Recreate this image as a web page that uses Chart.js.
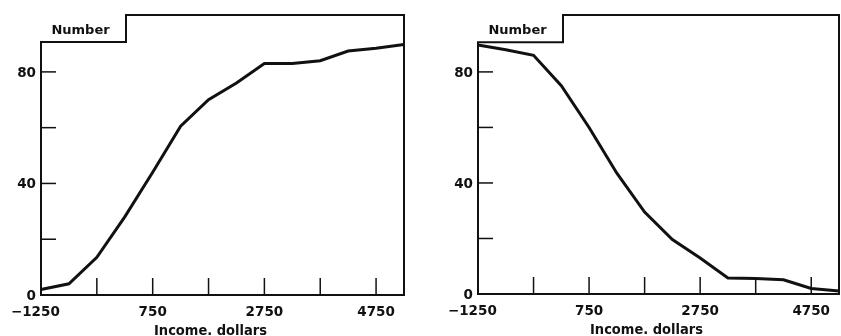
<!DOCTYPE html>
<html>
<head>
<meta charset="utf-8">
<script src="https://cdn.jsdelivr.net/npm/chart.js@4/dist/chart.umd.min.js"></script>
<style>
html, body { margin: 0; padding: 0; background: #fff; }
#wrap { position: relative; width: 841px; height: 336px; }
.panel { position: absolute; top: 0; height: 336px; }
#left { left: 0; width: 420px; }
#right { left: 420px; width: 421px; }
</style>
</head>
<body>
<div id="wrap">
  <div class="panel" id="left"><canvas id="below" width="420" height="336"></canvas></div>
  <div class="panel" id="right"><canvas id="above" width="421" height="336"></canvas></div>
</div>
<script>
// income levels (dollars) where the curves are read
const income = [-1250, -750, -250, 250, 750, 1250, 1750, 2250, 2750, 3250, 3750, 4250, 4750, 5250];
// left panel: number with income below the level
const numberBelow = [2, 4, 13.5, 28, 44, 60.5, 70, 76, 83, 83, 84, 87.5, 88.5, 89.8];
// right panel: number with income above the level
const numberAbove = [89.7, 88, 86, 75, 60, 43.5, 29.5, 19.6, 13, 5.8, 5.6, 5.1, 2, 1.1];

const xLabelValues = [-1250, 750, 2750, 4750];
const xTickValues = [-250, 750, 1750, 2750, 3750, 4750];
const yLabelValues = [0, 40, 80];
const yTickValues = [20, 40, 60, 80];
const yTitle = 'Number';
const xTitle = 'Income. dollars';

const ink = '#111';
const numFont = 'bold 13.5px "DejaVu Sans"';
const titleFont = 'bold 14.5px "DejaVu Sans Condensed", "DejaVu Sans"';
const tabFont = 'bold 13px "DejaVu Sans"';

function seg(ctx, x1, y1, x2, y2) {
    ctx.beginPath();
    ctx.moveTo(x1, y1);
    ctx.lineTo(x2, y2);
    ctx.stroke();
}

// draws the stepped frame, inward ticks and all the text
const framePlugin = {
    id: 'frame',
    afterDatasetsDraw(chart, args, opts) {
        const ctx = chart.ctx;
        const a = chart.chartArea;
        const x = chart.scales.x;
        const y = chart.scales.y;
        ctx.save();
        ctx.strokeStyle = ink;
        ctx.lineWidth = 2;
        const notchY = y.getPixelForValue(opts.notchValue);
        const notchX = a.left + opts.notchWidth;
        ctx.beginPath();
        ctx.moveTo(a.left, a.bottom);
        ctx.lineTo(a.left, notchY);
        ctx.lineTo(notchX, notchY);
        ctx.lineTo(notchX, a.top);
        ctx.lineTo(a.right, a.top);
        ctx.lineTo(a.right, a.bottom);
        ctx.closePath();
        ctx.stroke();

        ctx.lineWidth = 1.5;
        yTickValues.forEach(v => {
            const py = y.getPixelForValue(v);
            seg(ctx, a.left, py, a.left + 15, py);
        });
        xTickValues.forEach(v => {
            const px = x.getPixelForValue(v);
            seg(ctx, px, a.bottom, px, a.bottom - 17);
        });

        ctx.fillStyle = ink;
        ctx.font = numFont;
        ctx.textAlign = 'right';
        ctx.textBaseline = 'alphabetic';
        yLabelValues.forEach(v => {
            ctx.fillText(String(v), a.left - 5, y.getPixelForValue(v) + 5);
        });
        ctx.textAlign = 'center';
        const minusW = ctx.measureText('\u2212').width;
        xLabelValues.forEach(v => {
            const s = v < 0 ? '\u2212' + Math.abs(v) : String(v);
            const shift = v < 0 ? minusW / 2 : 0;
            ctx.fillText(s, x.getPixelForValue(v) - shift, a.bottom + 20.5);
        });
        ctx.font = titleFont;
        ctx.fillText(xTitle, (a.left + a.right) / 2 - 12, a.bottom + 39.5);

        ctx.font = tabFont;
        ctx.fillText(yTitle, a.left + opts.notchWidth / 2 - 3, (a.top + notchY) / 2 + 5);
        ctx.restore();
    }
};

function makeChart(id, series, padding, yMax) {
    return new Chart(document.getElementById(id).getContext('2d'), {
        type: 'line',
        data: {
            datasets: [{
                data: income.map((v, i) => ({ x: v, y: series[i] })),
                borderColor: ink,
                borderWidth: 3,
                pointRadius: 0,
                tension: 0,
                fill: false,
                clip: false
            }]
        },
        options: {
            responsive: false,
            animation: false,
            devicePixelRatio: 1,
            layout: { padding: padding },
            plugins: {
                legend: { display: false },
                tooltip: { enabled: false },
                frame: { notchValue: 90.7, notchWidth: 85 }
            },
            scales: {
                x: { type: 'linear', min: -1250, max: 5250, display: false },
                y: { min: 0, max: yMax, display: false }
            }
        },
        plugins: [framePlugin]
    });
}

makeChart('below', numberBelow, { left: 41, right: 16, top: 15, bottom: 41 }, 100.4);
makeChart('above', numberAbove, { left: 58, right: 2, top: 15, bottom: 42 }, 100.5);
</script>
</body>
</html>
